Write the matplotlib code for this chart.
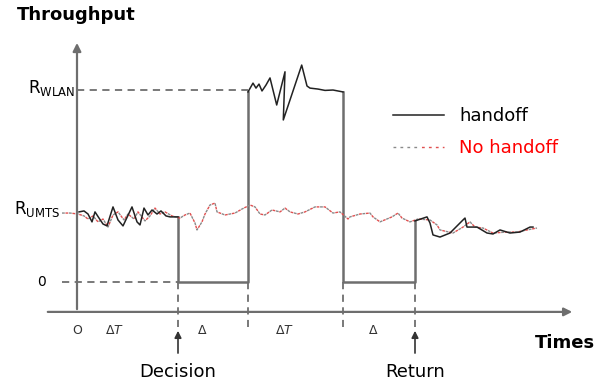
import matplotlib
matplotlib.use("Agg")
import matplotlib.pyplot as plt
from matplotlib.legend_handler import HandlerTuple

# throughput levels
R_WLAN = 10.0
R_UMTS = 3.6

# event times
t_decision = 10.1
t_up = 17.1
t_down = 26.6
t_return = 33.8

# handoff: on UMTS until the decision
ho_umts_t = [0.2, 0.7, 1.1, 1.5, 1.8, 2.2, 2.6, 3.0, 3.6, 4.1, 4.6, 5.5, 6.0, 6.3,
             6.7, 7.1, 7.5, 8.0, 8.4, 8.9, 9.3, 9.8, 10.1]
ho_umts_y = [3.65, 3.70, 3.54, 3.13, 3.65, 3.33, 3.02, 2.92, 3.91, 3.23, 2.92, 3.91, 3.13, 2.97,
             3.85, 3.49, 3.75, 3.54, 3.70, 3.44, 3.39, 3.39, 3.39]
# handoff: on WLAN
ho_wlan_t = [17.1, 17.6, 17.9, 18.2, 18.5, 18.9, 19.3, 19.97, 20.8, 20.63, 22.47, 23.0,
             23.3, 24.1, 24.8, 25.6, 26.6]
ho_wlan_y = [9.90, 10.36, 10.10, 10.31, 9.95, 10.26, 10.63, 9.22, 10.95, 8.44, 11.30, 10.21,
             10.10, 10.05, 9.98, 10.0, 9.90]
# handoff: back on UMTS after return
ho_back_t = [33.8, 35.0, 35.3, 35.6, 36.3, 37.3, 38.6, 38.8, 39.0, 40.0, 41.0, 41.6,
             42.3, 43.3, 44.3, 45.3, 45.6]
ho_back_y = [3.18, 3.39, 3.07, 2.45, 2.34, 2.55, 3.23, 3.33, 2.86, 2.86, 2.55, 2.50,
             2.71, 2.55, 2.60, 2.86, 2.86]

# no handoff: stays on UMTS
nh_t = [-1.5, -0.7, 0.1, 0.7, 1.1, 1.6, 2.1, 2.6, 3.1, 3.6, 4.1, 4.7, 5.1, 5.7, 6.1, 6.8,
        7.3, 7.8, 8.3, 8.8, 9.5, 10.3, 10.8, 11.3, 11.8, 12.0, 12.5, 12.8, 13.3, 13.8, 14.0,
        14.8, 15.8, 16.5, 17.3, 17.8, 18.3, 18.8, 19.5, 20.3, 20.8, 21.3, 22.1, 22.8, 23.8,
        24.8, 25.6, 26.3, 27.1, 27.3, 28.3, 29.3, 29.6, 30.3, 31.5, 32.1, 32.5, 33.3, 34.1,
        35.3, 36.0, 36.3, 37.6, 38.6, 39.3, 39.8, 40.6, 41.6, 43.0, 44.0, 45.0, 46.0]
nh_y = [3.59, 3.59, 3.54, 3.44, 3.28, 3.44, 3.13, 3.28, 2.86, 3.49, 3.65, 3.23, 3.54, 3.28,
        3.65, 3.18, 3.44, 3.85, 3.54, 3.65, 3.44, 3.33, 3.49, 3.59, 3.07, 2.71, 3.13, 3.54,
        4.01, 4.11, 3.65, 3.49, 3.59, 3.80, 4.01, 3.91, 3.54, 3.49, 3.75, 3.65, 3.85, 3.65,
        3.54, 3.65, 3.91, 3.91, 3.59, 3.65, 3.28, 3.39, 3.54, 3.59, 3.39, 3.13, 3.39, 3.59,
        3.33, 3.13, 3.28, 3.23, 2.97, 2.71, 2.55, 2.86, 3.13, 2.86, 2.81, 2.55, 2.60, 2.60,
        2.71, 2.81]

tick_pos = [0, 3.8, 12.5, 20.8, 29.6]
tick_lbl = ["O", r"$\Delta T$", r"$\Delta$", r"$\Delta T$", r"$\Delta$"]

axis_y = -1.56  # where the time axis sits
grey = "#6e6e6e"

fig = plt.figure(figsize=(5.98, 3.81), dpi=100)
ax = fig.add_axes([0, 0, 1, 1])
ax.set_xlim(-7.7, 52.1)
ax.set_ylim(-5.16, 14.69)
ax.axis("off")

# axes with arrow heads
ax.annotate("", xy=(49.8, axis_y), xytext=(-3.2, axis_y),
            arrowprops=dict(arrowstyle="-|>", color=grey, lw=1.6, mutation_scale=12))
ax.annotate("", xy=(0, 12.6), xytext=(0, axis_y),
            arrowprops=dict(arrowstyle="-|>", color=grey, lw=1.6, mutation_scale=12))

# reference levels
ax.plot([-1.5, t_decision], [0, 0], color=grey, lw=1.3, ls=(0, (4, 3)))
ax.plot([0, t_up], [R_WLAN, R_WLAN], color=grey, lw=1.3, ls=(0, (4, 3)))

# step parts of the handoff curve
ax.plot([t_decision, t_decision, t_up, t_up], [ho_umts_y[-1], 0, 0, ho_wlan_y[0]],
        color=grey, lw=1.8)
ax.plot([t_down, t_down, t_return, t_return], [ho_wlan_y[-1], 0, 0, ho_back_y[0]],
        color=grey, lw=1.8)

# event markers below the zero level
for t in [t_decision, t_up, t_down, t_return]:
    ax.plot([t, t], [0, -2.35], color=grey, lw=1.3, ls=(0, (4, 3)))

# no handoff curve (grey and red dashes)
nh_grey, = ax.plot(nh_t, nh_y, color="#8a8a8a", lw=1.0, ls=(0, (2, 3)))
nh_red, = ax.plot(nh_t, nh_y, color="#e05050", lw=1.0, ls=(2.5, (2, 3)))

# handoff curve
ho_line, = ax.plot(ho_umts_t, ho_umts_y, color="#222222", lw=1.1)
ax.plot(ho_wlan_t, ho_wlan_y, color="#222222", lw=1.1)
ax.plot(ho_back_t, ho_back_y, color="#222222", lw=1.1)

# tick labels on the time axis
for x, s in zip(tick_pos, tick_lbl):
    ax.text(x, -2.55, s, ha="center", va="center", fontsize=9, color="#333333")

# level labels
ax.text(-0.2, R_WLAN + 0.1, r"$\mathregular{R_{WLAN}}$", ha="right", va="center", fontsize=12)
ax.text(-1.7, R_UMTS + 0.2, r"$\mathregular{R_{UMTS}}$", ha="right", va="center", fontsize=12)
ax.text(-3.5, 0, "0", ha="center", va="center", fontsize=10)

# decision / return arrows
for t, s in [(t_decision, "Decision"), (t_return, "Return")]:
    ax.annotate("", xy=(t, -2.4), xytext=(t, -3.85),
                arrowprops=dict(arrowstyle="-|>", color="#333333", lw=1.2, mutation_scale=10))
    ax.text(t, -4.7, s, ha="center", va="center", fontsize=13)

ax.text(-6.0, 13.9, "Throughput", ha="left", va="center", fontsize=13, fontweight="bold")
ax.text(48.8, -3.18, "Times", ha="center", va="center", fontsize=13, fontweight="bold")

ax.legend([ho_line, (nh_grey, nh_red)], ["handoff", "No handoff"],
          handler_map={tuple: HandlerTuple(ndivide=None, pad=0)},
          loc="upper left", bbox_to_anchor=(0.630, 0.761), frameon=False,
          fontsize=13, handlelength=2.8, handletextpad=0.85, labelspacing=0.75,
          labelcolor=["black", "red"])

fig.savefig("out.png", dpi=100)
